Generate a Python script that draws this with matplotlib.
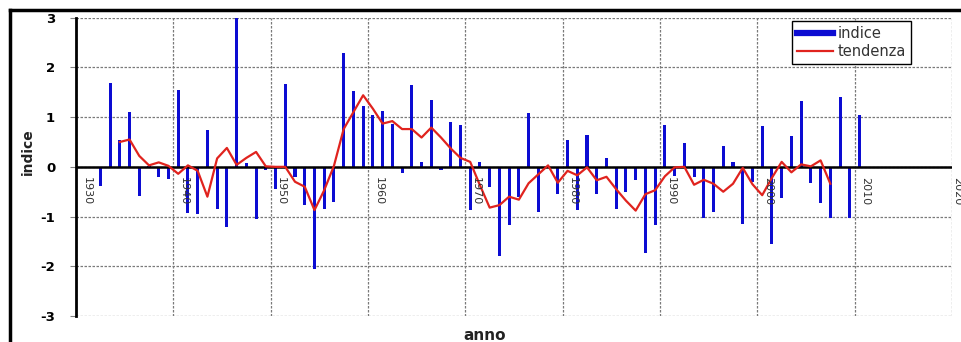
import numpy as np
import matplotlib
matplotlib.use("Agg")
import matplotlib.pyplot as plt
from matplotlib.lines import Line2D

# ---- data ----
bar_years = list(range(1932, 2011))
indice = [
    -0.39, 1.69, 0.55, 1.11, -0.58, 0.02, -0.21, -0.25,          # 1932-1939
    1.54, -0.92, -0.94, 0.75, -0.85, -1.21, 3.0, 0.07, -1.05, -0.07,  # 1940-1949
    -0.45, 1.66, -0.20, -0.76, -2.05, -0.84, -0.70, 2.30, 1.53, 1.22,  # 1950-1959
    1.04, 1.13, 0.87, -0.12, 1.64, 0.10, 1.34, -0.07, 0.90, 0.85,     # 1960-1969
    -0.87, 0.09, -0.40, -1.79, -1.16, -0.60, 1.09, -0.91, 0.02, -0.54,  # 1970-1979
    0.54, -0.87, 0.64, -0.54, 0.17, -0.85, -0.50, -0.26, -1.73, -1.16,  # 1980-1989
    0.84, -0.19, 0.48, -0.21, -1.03, -0.91, 0.42, 0.10, -1.15, -0.30,   # 1990-1999
    0.83, -1.56, -0.62, 0.62, 1.33, -0.32, -0.72, -1.02, 1.41, -1.02,   # 2000-2009
    1.05,                                                              # 2010
]

trend_years = list(range(1934, 2008))
tendenza = [
    0.50, 0.55, 0.22, 0.03, 0.09, 0.02,                               # 1934-1939
    -0.14, 0.03, -0.08, -0.60, 0.17, 0.38, 0.04, 0.18, 0.30, 0.01,     # 1940-1949
    0.00, 0.00, -0.30, -0.40, -0.87, -0.47, 0.02, 0.76, 1.10, 1.44,    # 1950-1959
    1.17, 0.87, 0.92, 0.76, 0.76, 0.59, 0.79, 0.59, 0.37, 0.18,        # 1960-1969
    0.10, -0.37, -0.82, -0.77, -0.60, -0.66, -0.33, -0.15, 0.03, -0.32,  # 1970-1979
    -0.08, -0.17, -0.01, -0.27, -0.20, -0.45, -0.68, -0.88, -0.55, -0.47,  # 1980-1989
    -0.19, -0.01, 0.00, -0.36, -0.26, -0.34, -0.50, -0.34, -0.02, -0.35,   # 1990-1999
    -0.57, -0.22, 0.10, -0.11, 0.05, 0.01, 0.13, -0.34,                   # 2000-2007
]

decades = list(range(1930, 2021, 10))
y_ticks = [-3, -2, -1, 0, 1, 2, 3]

# ---- figure ----
W, H = 962, 342
fig = plt.figure(figsize=(W / 100, H / 100), dpi=100)
fig.patch.set_facecolor("white")

left_px, right_px, top_px, bot_px = 76, 952, 17.7, 316
ax = fig.add_axes([left_px / W, 1 - bot_px / H,
                   (right_px - left_px) / W, (bot_px - top_px) / H])

bx = np.array(bar_years) + 0.5
tx = np.array(trend_years) + 0.5

ax.bar(bx, indice, width=0.32, color="#0c0cd2", zorder=2)
ax.axhline(0, color="black", lw=1.8, zorder=2.5)
ax.plot(tx, tendenza, color="#e0231e", lw=1.6, zorder=3)

ax.set_xlim(1930, 2020)
ax.set_ylim(-3, 3)
ax.set_xticks(decades)
ax.set_xticklabels([])
ax.tick_params(axis="x", length=0)
ax.set_yticks(y_ticks)
ax.set_yticklabels([str(v) for v in y_ticks], fontsize=9.5, fontweight="bold")
ax.tick_params(axis="y", length=4, color="#808080", pad=11)

ax.grid(True, color="#7a7a7a", linestyle=(0, (2, 1.2)), lw=0.9, zorder=0)
for s in ["top", "right", "bottom"]:
    ax.spines[s].set_visible(False)
ax.spines["left"].set_color("black")
ax.spines["left"].set_linewidth(2)

# rotated decade labels inside the plot
for d in decades:
    xpos = d + 0.55 if d < 2020 else d + 0.05
    ax.text(xpos, -0.2, str(d), rotation=270, ha="left", va="top",
            fontsize=8, color="#333333", zorder=4, clip_on=False)

# axis titles
fig.text(28 / W, 1 - 152 / H, "indice", rotation=90, ha="center", va="center",
         fontsize=10, fontweight="bold", color="#222222")
fig.text(485 / W, 1 - 336 / H, "anno", ha="center", va="center",
         fontsize=11, fontweight="bold", color="#222222")

# legend
handles = [Line2D([0], [0], color="#0c0cd2", lw=4.5),
           Line2D([0], [0], color="#e0231e", lw=1.6)]
leg = fig.legend(handles, ["indice", "tendenza"], loc="upper left",
                 bbox_to_anchor=(791.7 / W, 1 - 20.7 / H),
                 bbox_transform=fig.transFigure, borderaxespad=0,
                 fontsize=10.5, handlelength=2.5, handletextpad=0.3,
                 borderpad=0.35, labelspacing=0.2, fancybox=False,
                 frameon=True, framealpha=1)
leg.get_frame().set_edgecolor("black")
leg.get_frame().set_linewidth(1.0)
for t in leg.get_texts():
    t.set_color("#333333")

# outer frame (top and left edges)
fig.add_artist(Line2D([9.5 / W, 1.0], [1 - 9.5 / H, 1 - 9.5 / H],
                      transform=fig.transFigure, color="black", lw=2.5))
fig.add_artist(Line2D([9.5 / W, 9.5 / W], [0, 1 - 9.5 / H],
                      transform=fig.transFigure, color="black", lw=2.5))

fig.savefig("out.png", dpi=100)
